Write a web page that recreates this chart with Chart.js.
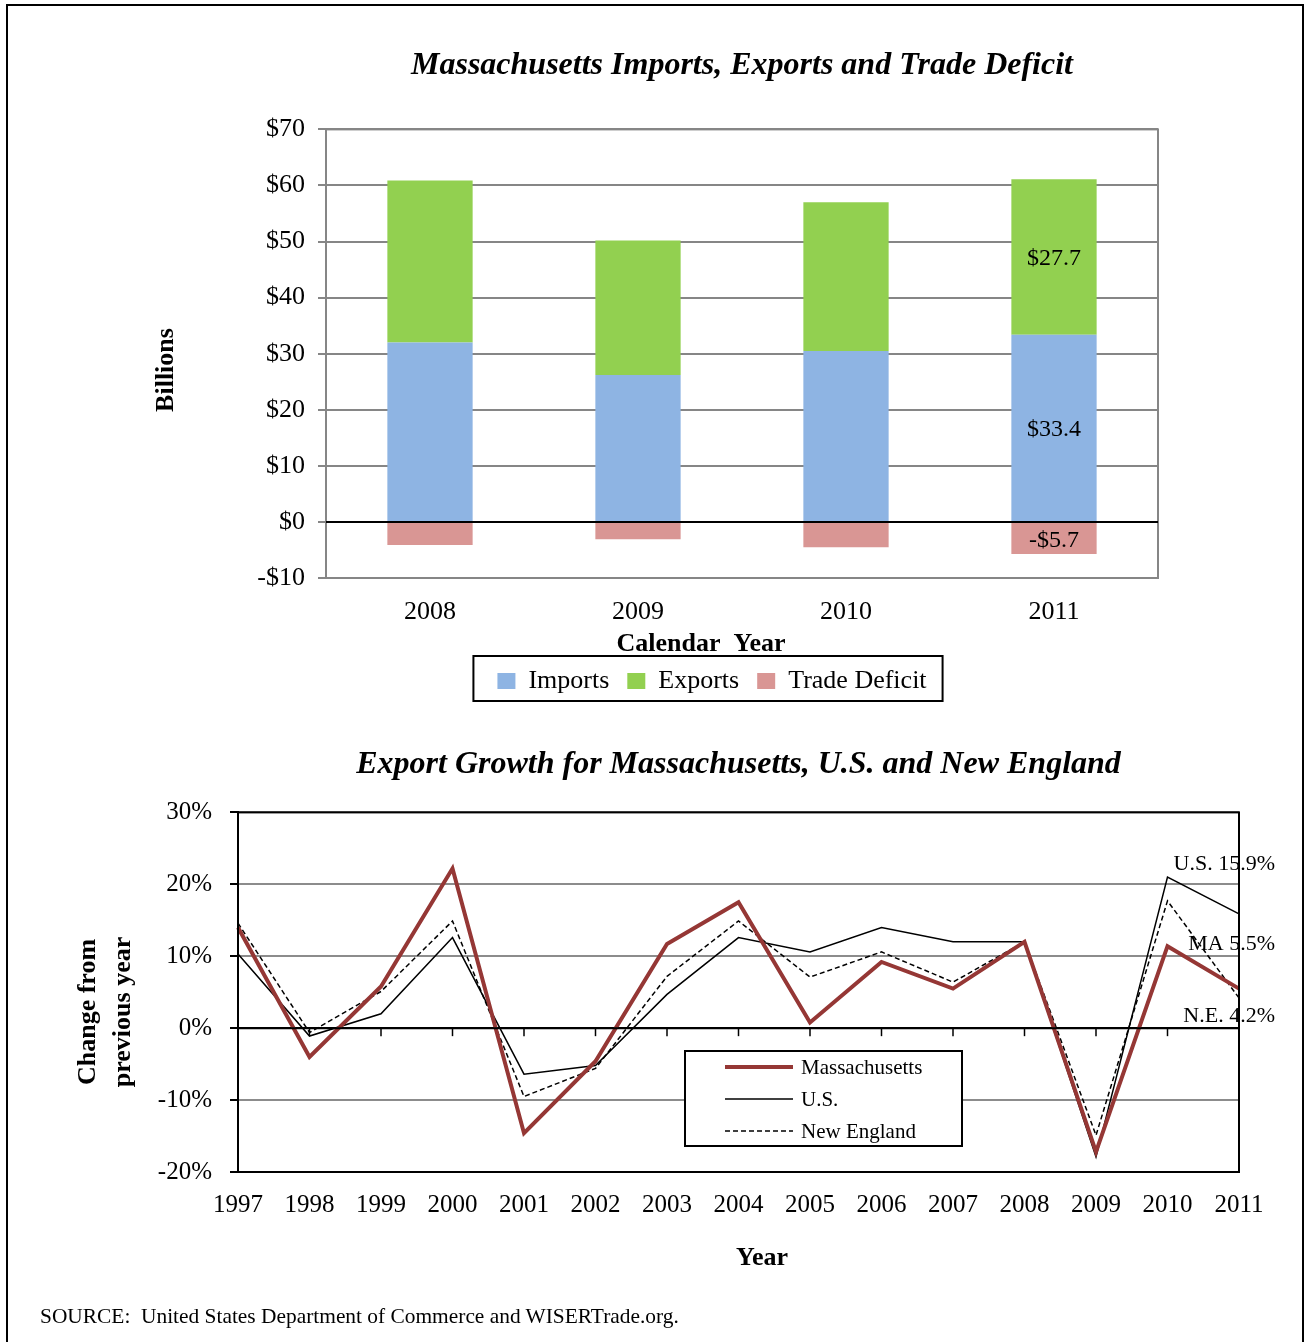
<!DOCTYPE html>
<html>
<head>
<meta charset="utf-8">
<title>Massachusetts trade</title>
<script src="https://cdn.jsdelivr.net/npm/chart.js@4.4.1/dist/chart.umd.min.js"></script>
<style>
  html, body { margin: 0; padding: 0; background: #fff; }
  body {
    width: 1304px; height: 1342px; position: relative; overflow: hidden;
    font-family: 'Liberation Serif', 'Times New Roman', serif;
  }
  #frame {
    position: absolute; left: 6px; top: 4px; width: 1294px; height: 1400px;
    border: 2px solid #000; border-bottom: none;
  }
  #tradeChart { position: absolute; left: 0; top: 0; }
  #growthChart { position: absolute; left: 0; top: 720px; }
  #source {
    position: absolute; left: 40px; top: 1304px;
    font-size: 21.4px; line-height: 24px; color: #000;
  }
</style>
</head>
<body>
<div id="frame"></div>
<canvas id="tradeChart" width="1304" height="720"></canvas>
<canvas id="growthChart" width="1304" height="600"></canvas>
<div id="source">SOURCE:&nbsp; United States Department of Commerce and WISERTrade.org.</div>

<script>
// ---- data: top chart (billions of dollars) ----
const tradeYears = ["2008", "2009", "2010", "2011"];
const imports = [32.0, 26.2, 30.5, 33.4];
const exports = [28.9, 24.0, 26.5, 27.7];
const tradeDeficit = [-4.1, -3.1, -4.5, -5.7];

// ---- data: bottom chart (% change from previous year) ----
const growthYears = ["1997", "1998", "1999", "2000", "2001", "2002", "2003", "2004",
  "2005", "2006", "2007", "2008", "2009", "2010", "2011"];
const maGrowth = [14.0, -4.0, 5.8, 22.2, -14.6, -4.6, 11.7, 17.5, 0.8, 9.2, 5.5, 12.0, -17.2, 11.4, 5.5];
const usGrowth = [10.3, -1.1, 2.0, 12.6, -6.4, -5.2, 4.7, 12.6, 10.6, 14.0, 12.0, 12.0, -17.9, 21.0, 15.9];
const neGrowth = [14.6, -0.6, 5.1, 14.9, -9.5, -5.6, 7.2, 14.9, 7.1, 10.6, 6.4, 12.0, -14.9, 17.7, 4.2];

const SERIF = "'Liberation Serif', 'Times New Roman', serif";
Chart.defaults.font.family = SERIF;
Chart.defaults.color = "#000";

function dollars(v) {
  return v < 0 ? "-$" + Math.abs(v) : "$" + v;
}

// plot frame + black zero line (+ optional small ticks on the zero line)
const frameLines = {
  id: "frameLines",
  afterDatasetsDraw(chart, args, opts) {
    const { ctx, chartArea: a, scales } = chart;
    ctx.save();
    ctx.strokeStyle = opts.color;
    ctx.lineWidth = 2;
    ctx.strokeRect(a.left, a.top, a.right - a.left, a.bottom - a.top);
    const y0 = scales.y.getPixelForValue(0);
    ctx.strokeStyle = "#000";
    ctx.beginPath();
    ctx.moveTo(a.left, y0);
    ctx.lineTo(a.right, y0);
    ctx.stroke();
    if (opts.zeroTicks) {
      ctx.lineWidth = 1.5;
      scales.x.ticks.forEach((t, i) => {
        const px = scales.x.getPixelForTick(i);
        ctx.beginPath();
        ctx.moveTo(px, y0);
        ctx.lineTo(px, y0 + 8);
        ctx.stroke();
      });
    }
    ctx.restore();
  },
};

// loose text: axis titles etc.
const looseText = {
  id: "looseText",
  afterDraw(chart, args, opts) {
    const ctx = chart.ctx;
    opts.items.forEach((t) => {
      ctx.save();
      ctx.font = t.font;
      ctx.fillStyle = "#000";
      ctx.textAlign = "center";
      ctx.textBaseline = "middle";
      ctx.translate(t.x, t.y);
      if (t.rotate) ctx.rotate(-Math.PI / 2);
      ctx.fillText(t.text, 0, 0);
      ctx.restore();
    });
  },
};

// value labels inside the bars of one category
const barValues = {
  id: "barValues",
  afterDatasetsDraw(chart, args, opts) {
    const ctx = chart.ctx;
    ctx.save();
    ctx.font = "24px " + SERIF;
    ctx.fillStyle = "#000";
    ctx.textAlign = "center";
    ctx.textBaseline = "middle";
    chart.data.datasets.forEach((ds, d) => {
      const el = chart.getDatasetMeta(d).data[opts.index];
      const { x, y, base } = el.getProps(["x", "y", "base"], true);
      const v = ds.data[opts.index];
      const txt = (v < 0 ? "-$" : "$") + Math.abs(v).toFixed(1);
      ctx.fillText(txt, x, (y + base) / 2 + 2);
    });
    ctx.restore();
  },
};

// box around the built-in legend
const legendBox = {
  id: "legendBox",
  afterDraw(chart) {
    const boxes = chart.legend.legendHitBoxes;
    if (!boxes.length) return;
    const first = boxes[0];
    const last = boxes[boxes.length - 1];
    const cy = first.top + first.height / 2;
    const ctx = chart.ctx;
    ctx.save();
    ctx.strokeStyle = "#000";
    ctx.lineWidth = 2;
    ctx.strokeRect(first.left - 24, cy - 25, last.left + last.width + 16 - (first.left - 24), 45);
    ctx.restore();
  },
};

// legend inside the growth chart
const lineLegend = {
  id: "lineLegend",
  afterDraw(chart, args, opts) {
    const ctx = chart.ctx;
    ctx.save();
    ctx.fillStyle = "#fff";
    ctx.fillRect(opts.x, opts.y, opts.w, opts.h);
    ctx.strokeStyle = "#000";
    ctx.lineWidth = 2;
    ctx.strokeRect(opts.x, opts.y, opts.w, opts.h);
    ctx.font = "21px " + SERIF;
    ctx.textBaseline = "middle";
    ctx.textAlign = "left";
    chart.data.datasets.forEach((ds, i) => {
      const cy = opts.y + 16 + i * 32;
      ctx.strokeStyle = ds.borderColor;
      ctx.lineWidth = ds.borderWidth;
      ctx.setLineDash(ds.borderDash || []);
      ctx.beginPath();
      ctx.moveTo(opts.x + 40, cy);
      ctx.lineTo(opts.x + 108, cy);
      ctx.stroke();
      ctx.setLineDash([]);
      ctx.fillStyle = "#000";
      ctx.fillText(ds.label, opts.x + 116, cy + 1);
    });
    ctx.restore();
  },
};

// end-of-series labels at the right edge
const endLabels = {
  id: "endLabels",
  afterDatasetsDraw(chart, args, opts) {
    const { ctx, scales } = chart;
    const xEnd = scales.x.getPixelForValue(growthYears.length - 1);
    ctx.save();
    ctx.font = "22px " + SERIF;
    ctx.fillStyle = "#000";
    ctx.textAlign = "right";
    ctx.textBaseline = "middle";
    opts.labels.forEach((l) => {
      ctx.fillText(l.text, xEnd + 36, scales.y.getPixelForValue(l.at));
    });
    ctx.restore();
  },
};

// ---------- top chart ----------
new Chart(document.getElementById("tradeChart"), {
  type: "bar",
  data: {
    labels: tradeYears,
    datasets: [
      { label: "Imports", data: imports, backgroundColor: "#8EB4E3" },
      { label: "Exports", data: exports, backgroundColor: "#92D050" },
      { label: "Trade Deficit", data: tradeDeficit, backgroundColor: "#D99694" },
    ],
  },
  options: {
    responsive: false,
    animation: false,
    datasets: { bar: { categoryPercentage: 0.41, barPercentage: 1 } },
    layout: { padding: { left: 120, right: 0, top: 0, bottom: 16 } },
    scales: {
      x: {
        stacked: true,
        grid: { display: false, drawTicks: false },
        border: { color: "#868686", width: 2 },
        ticks: { font: { size: 26 }, padding: 19, maxRotation: 0 },
        afterFit: (s) => { s.height = 72; },
      },
      y: {
        stacked: true,
        min: -10,
        max: 70,
        ticks: { stepSize: 10, font: { size: 26 }, padding: 13, callback: dollars },
        grid: { color: "#868686", lineWidth: 2, tickLength: 8, tickColor: "#868686" },
        border: { color: "#868686", width: 2 },
        afterFit: (s) => { s.width = 206; },
      },
      y2: {
        position: "right",
        grid: { display: false, drawTicks: false },
        border: { display: false },
        ticks: { display: false },
        afterFit: (s) => { s.width = 146; },
      },
    },
    plugins: {
      title: {
        display: true,
        text: "Massachusetts Imports, Exports and Trade Deficit",
        fullSize: false,
        color: "#000",
        font: { size: 32, weight: "bold", style: "italic" },
        padding: { top: 47, bottom: 44 },
      },
      legend: {
        position: "bottom",
        labels: { boxWidth: 18, boxHeight: 16, padding: 18, font: { size: 26 }, color: "#000" },
      },
      tooltip: { enabled: false },
      frameLines: { color: "#868686" },
      barValues: { index: 3 },
      looseText: {
        items: [
          { text: "Calendar  Year", x: 701, y: 644, font: "bold 26px " + SERIF },
          { text: "Billions", x: 166, y: 370, rotate: true, font: "bold 26px " + SERIF },
        ],
      },
    },
  },
  plugins: [frameLines, barValues, looseText, legendBox],
});

// ---------- bottom chart ----------
new Chart(document.getElementById("growthChart"), {
  type: "line",
  data: {
    labels: growthYears,
    datasets: [
      { label: "Massachusetts", data: maGrowth, borderColor: "#953735", borderWidth: 4 },
      { label: "U.S.", data: usGrowth, borderColor: "#000", borderWidth: 1.5 },
      { label: "New England", data: neGrowth, borderColor: "#000", borderWidth: 1.5, borderDash: [5, 3] },
    ],
  },
  options: {
    responsive: false,
    animation: false,
    elements: { point: { radius: 0 }, line: { tension: 0 } },
    layout: { padding: { left: 0, right: 65, top: 0, bottom: 0 } },
    scales: {
      x: {
        grid: { display: false, drawTicks: false },
        border: { color: "#000", width: 2 },
        ticks: { font: { size: 25 }, padding: 18, maxRotation: 0, autoSkip: false },
        afterFit: (s) => { s.height = 148; },
      },
      y: {
        min: -20,
        max: 30,
        ticks: { stepSize: 10, font: { size: 25 }, padding: 18, callback: (v) => v + "%" },
        grid: {
          color: (c) => (c.tick.value === 0 ? "#000" : "#8c8c8c"),
          lineWidth: 2,
          tickLength: 8,
          tickColor: "#000",
        },
        border: { color: "#000", width: 2 },
        afterFit: (s) => { s.width = 238; },
      },
    },
    plugins: {
      title: {
        display: true,
        text: "Export Growth for Massachusetts, U.S. and New England",
        fullSize: false,
        color: "#000",
        font: { size: 32, weight: "bold", style: "italic" },
        padding: { top: 26, bottom: 28 },
      },
      legend: { display: false },
      tooltip: { enabled: false },
      frameLines: { color: "#000", zeroTicks: true },
      lineLegend: { x: 685, y: 331, w: 277, h: 95 },
      endLabels: {
        labels: [
          { text: "U.S. " + usGrowth[usGrowth.length - 1].toFixed(1) + "%", at: 22.8 },
          { text: "MA " + maGrowth[maGrowth.length - 1].toFixed(1) + "%", at: 11.7 },
          { text: "N.E. " + neGrowth[neGrowth.length - 1].toFixed(1) + "%", at: 1.7 },
        ],
      },
      looseText: {
        items: [
          { text: "Year", x: 762, y: 538, font: "bold 26px " + SERIF },
          { text: "Change from", x: 88, y: 292, rotate: true, font: "bold 26px " + SERIF },
          { text: "previous year", x: 123, y: 292, rotate: true, font: "bold 26px " + SERIF },
        ],
      },
    },
  },
  plugins: [frameLines, endLabels, lineLegend, looseText],
});
</script>
</body>
</html>
